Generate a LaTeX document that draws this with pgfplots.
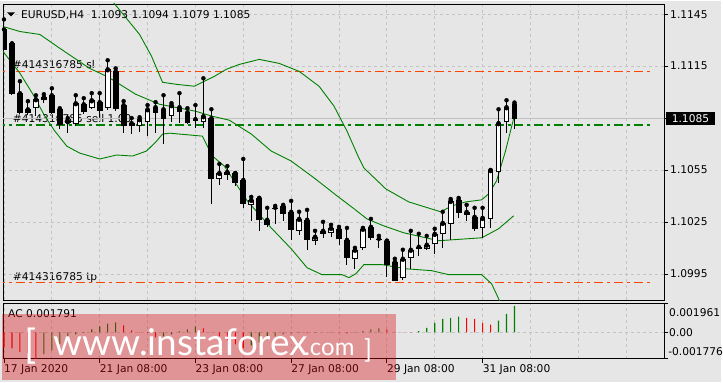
\documentclass[border=0pt]{standalone}
\usepackage{pgfplots}
\pgfplotsset{compat=1.18}
\usepackage{pgfplotstable}
\usepackage{fontspec}
\setmainfont{DejaVu Sans}
\newfontfamily\wmfont{Lato}
\definecolor{bg}{RGB}{230,230,230}
\definecolor{gridc}{RGB}{196,196,196}
\definecolor{bidc}{RGB}{192,192,192}
\definecolor{slred}{RGB}{255,69,0}
\definecolor{mgreen}{RGB}{0,128,0}
\definecolor{acred}{RGB}{255,0,0}
\definecolor{wm}{RGB}{215,10,15}
\newcommand\mtfont{\fontsize{10.7}{12}\selectfont}
\pgfplotsset{candle/.style={only marks, mark=*, mark options={draw=none, fill=none}, error bars/.cd, y dir=minus, y explicit, error mark=none}}

\pgfplotstableread{
i o h l c
0 1.11362 1.11420 1.11235 1.11247
1 1.11281 1.11281 1.10982 1.10994
2 1.10994 1.11063 1.10873 1.10884
3 1.10901 1.10948 1.10867 1.10884
6 1.10982 1.11022 1.10873 1.10884
7 1.10901 1.10907 1.10786 1.10815
10 1.10930 1.10965 1.10873 1.10890
12 1.10942 1.10994 1.10855 1.10896
14 1.11120 1.11137 1.10890 1.10907
15 1.10925 1.10948 1.10763 1.10809
16 1.10821 1.10850 1.10758 1.10809
19 1.10913 1.10942 1.10763 1.10884
20 1.10901 1.10982 1.10700 1.10850
22 1.10913 1.10994 1.10821 1.10890
23 1.10884 1.10907 1.10815 1.10827
24 1.10844 1.10925 1.10792 1.10838
26 1.10850 1.10901 1.10355 1.10504
29 1.10533 1.10533 1.10458 1.10476
30 1.10493 1.10614 1.10332 1.10355
32 1.10389 1.10389 1.10199 1.10263
33 1.10263 1.10332 1.10222 1.10234
34 1.10332 1.10343 1.10240 1.10326
35 1.10343 1.10349 1.10257 1.10297
36 1.10309 1.10372 1.10147 1.10205
38 1.10263 1.10320 1.10090 1.10147
42 1.10211 1.10222 1.10119 1.10153
43 1.10147 1.10216 1.10004 1.10044
46 1.10222 1.10268 1.10147 1.10159
47 1.10153 1.10170 1.10101 1.10147
48 1.10142 1.10142 1.09934 1.10004
49 1.10021 1.10038 1.09911 1.09911
52 1.10107 1.10182 1.10055 1.10096
57 1.10378 1.10389 1.10274 1.10303
58 1.10309 1.10349 1.10257 1.10291
59 1.10280 1.10332 1.10199 1.10211
64 1.10930 1.10940 1.10790 1.10850
}\bear

\pgfplotstableread{
i o h l c
4 1.10907 1.10982 1.10861 1.10959
5 1.10953 1.10988 1.10936 1.10971
8 1.10821 1.10850 1.10763 1.10832
9 1.10815 1.10982 1.10804 1.10936
11 1.10907 1.10994 1.10901 1.10953
13 1.10907 1.11184 1.10896 1.11132
17 1.10804 1.10855 1.10769 1.10844
18 1.10827 1.10925 1.10746 1.10901
21 1.10861 1.10936 1.10827 1.10925
25 1.10827 1.11080 1.10792 1.10861
27 1.10499 1.10585 1.10464 1.10533
28 1.10522 1.10573 1.10493 1.10539
31 1.10349 1.10395 1.10257 1.10378
37 1.10199 1.10309 1.10176 1.10268
39 1.10142 1.10199 1.10119 1.10165
40 1.10182 1.10251 1.10159 1.10199
41 1.10188 1.10234 1.10165 1.10216
44 1.10038 1.10101 1.09980 1.10090
45 1.10101 1.10216 1.10090 1.10211
50 1.09929 1.10090 1.09917 1.10038
51 1.10044 1.10199 1.09980 1.10090
53 1.10096 1.10170 1.10090 1.10119
54 1.10124 1.10211 1.10067 1.10182
55 1.10182 1.10309 1.10101 1.10245
56 1.10240 1.10383 1.10147 1.10372
60 1.10216 1.10332 1.10159 1.10274
61 1.10268 1.10550 1.10216 1.10550
62 1.10539 1.10901 1.10476 1.10821
63 1.10827 1.10953 1.10763 1.10913
}\bull

\pgfplotstableread{
i v
5 -0.00147
6 -0.00121
7 -0.00080
8 -0.00040
9 -0.00013
10 -0.00003
11 0.00020
12 0.00040
13 0.00060
14 0.00067
20 -0.00027
21 -0.00013
22 0.00007
23 0.00020
24 0.00040
31 -0.00087
32 -0.00067
33 -0.00047
34 -0.00027
35 -0.00013
36 -0.00007
37 -0.00003
39 -0.00003
40 0.00001
41 0.00003
44 0.00003
45 0.00010
46 0.00020
47 0.00027
52 0.00009
53 0.00031
54 0.00065
55 0.00092
56 0.00098
57 0.00107
62 0.00080
63 0.00125
64 0.001791
}\acgreen

\pgfplotstableread{
i v
0 -0.00101
1 -0.00107
2 -0.00131
3 -0.00141
4 -0.001776
15 0.00047
16 0.00013
17 0.00003
18 -0.00003
19 -0.00034
25 0.00027
26 0.00001
27 -0.00027
28 -0.00054
29 -0.00080
30 -0.00107
38 -0.00007
42 0.00002
43 -0.00007
48 0.00020
49 0.00003
50 0.00002
51 0.00002
58 0.00098
59 0.00092
60 0.00065
61 0.00052
}\acred

\begin{document}
\begin{tikzpicture}[x=1pt,y=1pt]
\fill[bg] (0,0) rectangle (723,382);
% order labels (under the candles)
\node[anchor=base west, inner sep=0, font=\mtfont] at (12.7,314.7) {\#414316785 sl};
\node[anchor=base west, inner sep=0, font=\mtfont] at (12.7,260.3) {\#414316785 sell 1.00};
\node[anchor=base west, inner sep=0, font=\mtfont] at (12.7,102) {\#414316785 tp};

\begin{axis}[
  at={(3pt,82.5pt)}, anchor=south west, scale only axis,
  width=663pt, height=297pt,
  xmin=-0.125, xmax=82.75, ymin=1.09799, ymax=1.11509,
  axis line style={black, line width=0.9pt},
  xtick={0,6,...,78}, xticklabels={}, xtick style={draw=none},
  xmajorgrids, ymajorgrids,
  ytick={1.0995,1.1025,1.1055,1.1085,1.1115,1.1145},
  yticklabels={1.0995,1.1025,1.1055,,1.1115,1.1145},
  ytick pos=right, yticklabel pos=right,
  tick align=outside, major tick length=4pt,
  ytick style={black, line width=0.8pt},
  grid style={gridc, dash pattern=on 3pt off 3pt, line width=0.8pt},
  yticklabel style={font=\mtfont, anchor=west, inner sep=2pt},
]
% bid line and order levels
\addplot[bidc, line width=0.9pt] coordinates {(-1,1.1085) (90,1.1085)};
\addplot[draw=slred, line width=1.2pt, dash pattern=on 9pt off 4pt on 3pt off 4pt] coordinates {(-1,1.1112) (81.5,1.1112)};
\addplot[draw=mgreen, line width=1.2pt, dash pattern=on 9pt off 4pt on 3pt off 4pt] coordinates {(-1,1.1081) (81.5,1.1081)};
\addplot[draw=slred, line width=1.2pt, dash pattern=on 9pt off 4pt on 3pt off 4pt] coordinates {(-1,1.0990) (81.5,1.0990)};
% Bollinger bands
\addplot[mgreen, line width=0.9pt] coordinates {
(12,1.11638) (13.625,1.11523) (15.375,1.11425) (17,1.11333) (18.5,1.11207) (19.875,1.11057)
(21.625,1.11045) (23.875,1.11034) (25.125,1.11063) (26.375,1.11091) (27.875,1.11132)
(29.5,1.11160) (32,1.11189) (34.5,1.11166) (37,1.11120) (39.5,1.11034) (41.375,1.10919)
(43,1.10775) (44.5,1.10619) (45.125,1.10562) (47.875,1.10441) (50.75,1.10366)
(54.75,1.10309) (56.125,1.10343) (57.875,1.10366) (59.875,1.10378) (60.75,1.10412)
(61.75,1.10487) (62.875,1.10660) (63.875,1.10844)};
\addplot[mgreen, line width=0.9pt] coordinates {
(-0.125,1.11379) (2,1.11350) (4.5,1.11333) (7,1.11253) (10.75,1.11137) (13.1,1.11086)
(16.5,1.10988) (19.5,1.10930) (24,1.10890) (26.1,1.10861) (28.25,1.10838) (31,1.10758)
(33.5,1.10660) (36,1.10602) (38.9,1.10504) (41.75,1.10401) (43.9,1.10326) (45.5,1.10268)
(47.6,1.10228) (50.1,1.10188) (54.5,1.10142) (59.9,1.10159) (62,1.10211) (63.9,1.10286)};
\addplot[mgreen, line width=0.9pt] coordinates {
(-0.125,1.11235) (2,1.11109) (3.625,1.10988) (5.125,1.10861) (6.375,1.10775) (7.875,1.10688)
(9.5,1.10648) (12,1.10614) (14.125,1.10637) (16.125,1.10631) (17.875,1.10660) (19.125,1.10717)
(19.875,1.10758) (20.75,1.10763) (24.875,1.10746) (26.125,1.10631) (27.625,1.10573)
(30.5,1.10372) (33.5,1.10216) (36,1.10096) (38,1.09986) (39.875,1.09946) (42.375,1.09946)
(43.25,1.09929) (44.125,1.09952) (45.125,1.10004) (47.375,1.10004) (50.375,1.09980)
(53.625,1.09969) (55.75,1.09946) (59.875,1.09946) (61.125,1.09894) (62,1.09808) (62.75,1.09727)};
% wicks
\addplot[candle, error bar style={black, line width=1pt}]
  table[x=i, y=h, y error expr=\thisrow{h}-\thisrow{l}] {\bear};
\addplot[candle, error bar style={black, line width=1pt}]
  table[x=i, y=h, y error expr=\thisrow{h}-\thisrow{l}] {\bull};
% bodies
\addplot[candle, error bar style={black, line width=5.8pt}]
  table[x=i, y=o, y error expr=\thisrow{o}-\thisrow{c}+0.00003] {\bear};
\addplot[candle, error bar style={black, line width=5.8pt}]
  table[x=i, y=c, y error expr=\thisrow{c}-\thisrow{o}] {\bull};
\addplot[candle, error bar style={white, line width=3.8pt}]
  table[x=i, y expr=\thisrow{c}-0.0000576, y error expr={max(\thisrow{c}-\thisrow{o}-0.000115,0)}] {\bull};
\end{axis}

% AC sub-window
\begin{axis}[
  at={(3pt,23.7pt)}, anchor=south west, scale only axis,
  width=663pt, height=55.6pt,
  xmin=-0.125, xmax=82.75, ymin=-0.001776, ymax=0.001961,
  scaled y ticks=false,
  axis line style={black, line width=0.9pt},
  xtick={0,12,...,60},
  xticklabels={17 Jan 2020,21 Jan 08:00,23 Jan 08:00,27 Jan 08:00,29 Jan 08:00,31 Jan 08:00},
  minor xtick={6,18,30,42,54,66,72,78},
  xmajorgrids, xminorgrids, ymajorgrids,
  minor tick length=0pt,
  xtick pos=left, ytick pos=right,
  ytick={-0.001776,0,0.001961}, yticklabels={,,},
  tick align=outside, major tick length=4pt,
  tick style={black, line width=0.8pt},
  grid style={gridc, dash pattern=on 3pt off 3pt, line width=0.8pt},
  minor grid style={gridc, dash pattern=on 3pt off 3pt, line width=0.8pt},
  xticklabel style={font=\mtfont, anchor=north west, xshift=-2pt, inner sep=2pt},
]
\addplot[ybar, bar shift=0pt, bar width=1.1pt, fill=mgreen, draw=none] table[x=i, y=v] {\acgreen};
\addplot[ybar, bar shift=0pt, bar width=1.1pt, fill=acred, draw=none] table[x=i, y=v] {\acred};
\end{axis}

% header and labels
\fill[black] (7,371) -- (15,371) -- (11,367) -- cycle;
\node[anchor=base west, inner sep=0, font=\mtfont] at (21,365.3) {EURUSD,H4\ \ 1.1093 1.1094 1.1079 1.1085};
\node[anchor=base west, inner sep=0, font=\mtfont] at (8,64.7) {AC 0.001791};
\fill[black] (668.3,258) rectangle (716.7,271);
\node[anchor=center, inner sep=0, font=\mtfont, text=white] at (692.5,264.5) {1.1085};
\node[anchor=base west, inner sep=0, font=\mtfont] at (671,66) {0.001961};
\node[anchor=base west, inner sep=0, font=\mtfont] at (671,46) {0.00};
\node[anchor=base west, inner sep=0, font=\mtfont] at (670,27) {-0.001776};

% watermark
\fill[wm, fill opacity=0.37] (2,2) rectangle (397,69);
\node[anchor=base west, inner sep=0, text=white, font=\wmfont\fontsize{40}{40}\selectfont] at (24,24) {[};
\node[anchor=base west, inner sep=0, text=white, font=\wmfont\fontsize{37}{37}\selectfont] at (53,27) {www.instaforex};
\node[anchor=base west, inner sep=0, text=white, font=\wmfont\fontsize{24}{24}\selectfont] at (305,27) {.com};
\node[anchor=base west, inner sep=0, text=white, font=\wmfont\fontsize{26}{26}\selectfont] at (365,24) {]};
\end{tikzpicture}
\end{document}
